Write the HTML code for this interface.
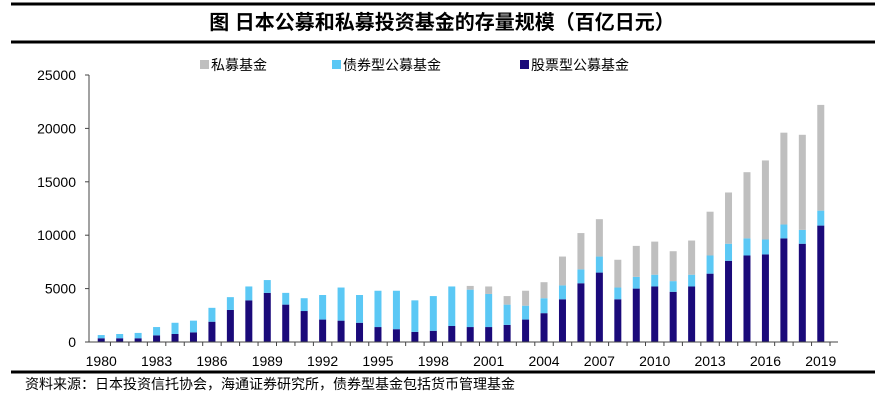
<!DOCTYPE html>
<html><head><meta charset="utf-8"><style>
body{margin:0;width:885px;height:403px;background:#fff;overflow:hidden;font-family:"Liberation Sans","Noto Sans CJK SC",sans-serif}
svg{position:absolute;left:0;top:0}
</style></head><body>
<svg width="885" height="403">
<line x1="11" y1="4" x2="875" y2="4" stroke="#000" stroke-width="3"/>
<text x="442" y="29" text-anchor="middle" font-size="20" font-weight="bold" font-family="'Liberation Sans','Noto Sans CJK SC',sans-serif">图  日本公募和私募投资基金的存量规模（百亿日元）</text>
<line x1="11" y1="42" x2="875" y2="42" stroke="#000" stroke-width="3"/>
<g font-size="14" font-family="'Liberation Sans','Noto Sans CJK SC',sans-serif">
<g><rect x="200" y="60" width="9" height="9" fill="#bfbfbf"/><text x="211" y="70">私募基金</text></g>
<g><rect x="332" y="60" width="9" height="9" fill="#5bc8f5"/><text x="343" y="70">债券型公募基金</text></g>
<g><rect x="520" y="60" width="9" height="9" fill="#1a0a7a"/><text x="531" y="70">股票型公募基金</text></g>
</g>
<g id="plot"></g>
<line x1="11" y1="372" x2="875" y2="372" stroke="#000" stroke-width="3"/>
<text x="25" y="389" font-size="14" font-family="'Liberation Sans','Noto Sans CJK SC',sans-serif">资料来源：日本投资信托协会，海通证券研究所，债券型基金包括货币管理基金</text>
</svg>
<script>
const years=[1980,1981,1982,1983,1984,1985,1986,1987,1988,1989,1990,1991,1992,1993,1994,1995,1996,1997,1998,1999,2000,2001,2002,2003,2004,2005,2006,2007,2008,2009,2010,2011,2012,2013,2014,2015,2016,2017,2018,2019];
const equity=[350,350,350,620,750,900,1900,3000,3900,4600,3500,2900,2100,2000,1800,1400,1200,950,1050,1500,1400,1400,1600,2100,2700,4000,5500,6500,4000,5000,5200,4700,5200,6400,7600,8100,8200,9700,9200,10900];
const bond=[300,400,500,780,1050,1100,1300,1200,1300,1200,1100,1200,2300,3100,2600,3400,3600,2950,3250,3700,3500,3100,1900,1300,1400,1300,1300,1500,1100,1100,1100,1000,1100,1700,1600,1600,1400,1300,1300,1400];
const priv=[0,0,0,0,0,0,0,0,0,0,0,0,0,0,0,0,0,0,0,0,350,700,800,1400,1500,2700,3400,3500,2600,2900,3100,2800,3200,4100,4800,6200,7400,8600,8900,9900];
const yTicks=[0,5000,10000,15000,20000,25000];
const g=document.getElementById('plot');const NS='http://www.w3.org/2000/svg';
const AX=89,X0=92,X1=830,Y0=342,Y1=75,YMAX=25000;
const bw=(X1-X0)/years.length;
const y=v=>Y0-(v/YMAX)*(Y0-Y1);
const x=i=>X0+bw*(i+0.5);
function el(t,a){const e=document.createElementNS(NS,t);for(const k in a)e.setAttribute(k,a[k]);g.appendChild(e);return e;}
let ax=el('line',{x1:AX,y1:Y1,x2:AX,y2:Y0,stroke:'#444'});


yTicks.forEach(v=>{
 const tk=el('line',{x1:AX-4,x2:AX,y1:y(v),y2:y(v),stroke:'#444'});
 
 
 const t=el('text',{x:AX-13,y:y(v)+5,'text-anchor':'end','font-size':14});t.textContent=v;
 
 
});
years.forEach((yr,i)=>{
 const tk=el('line',{x1:X0+bw*(i+1),x2:X0+bw*(i+1),y1:Y0,y2:Y0+4,stroke:'#444'});
 
 
 const segs=[[0,equity[i],'#1a0a7a','bar-equity'],[equity[i],equity[i]+bond[i],'#5bc8f5','bar-bond'],[equity[i]+bond[i],equity[i]+bond[i]+priv[i],'#bfbfbf','bar-private']];
 segs.forEach(s=>{if(s[1]<=s[0])return;
  const r=el('rect',{x:x(i)-3.5,width:7,y:y(s[1]),height:y(s[0])-y(s[1]),fill:s[2]});
  
  
 });
 if(i%3===0){const t=el('text',{x:x(i),y:Y0+24,'text-anchor':'middle','font-size':14});t.textContent=yr;
  
  }
});
let xa=el('line',{x1:AX,y1:Y0,x2:X1+8,y2:Y0,stroke:'#444'});


</script>
</body></html>
